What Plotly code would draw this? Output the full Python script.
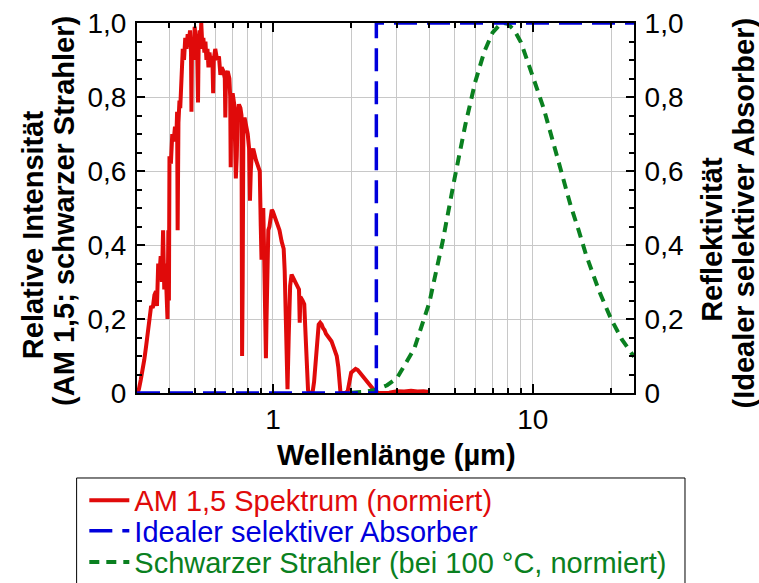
import plotly.graph_objects as go

# ---------------- data ----------------
am_wl = [0.300, 0.305, 0.310, 0.315, 0.320, 0.325, 0.330, 0.335, 0.340, 0.345,
         0.350, 0.355, 0.358, 0.362, 0.366, 0.370, 0.374, 0.378, 0.382, 0.386,
         0.390, 0.393, 0.396, 0.398, 0.400, 0.405, 0.410, 0.415, 0.420, 0.425,
         0.428, 0.430, 0.433, 0.437, 0.440, 0.445, 0.450, 0.455, 0.460, 0.465,
         0.470, 0.475, 0.480, 0.484, 0.486, 0.488, 0.492, 0.496, 0.500, 0.505,
         0.510, 0.515, 0.518, 0.522, 0.526, 0.530, 0.535, 0.540, 0.545, 0.550,
         0.555, 0.560, 0.565, 0.570, 0.575, 0.580, 0.586, 0.589, 0.592, 0.600,
         0.610, 0.620, 0.628, 0.635, 0.645, 0.653, 0.656, 0.660, 0.670, 0.680,
         0.685, 0.688, 0.692, 0.700, 0.710, 0.716, 0.720, 0.726, 0.732, 0.740,
         0.750, 0.757, 0.761, 0.765, 0.770, 0.780, 0.790, 0.800, 0.810, 0.816,
         0.822, 0.830, 0.840, 0.850, 0.860, 0.870, 0.880, 0.890, 0.898, 0.904,
         0.910, 0.918, 0.925, 0.930, 0.935, 0.940, 0.945, 0.950, 0.955, 0.960,
         0.970, 0.980, 0.990, 1.000, 1.020, 1.040, 1.060, 1.080, 1.100, 1.110,
         1.120, 1.130, 1.138, 1.150, 1.165, 1.180, 1.200, 1.220, 1.240, 1.260,
         1.268, 1.275, 1.300, 1.320, 1.335, 1.350, 1.365, 1.380, 1.400, 1.420,
         1.440, 1.460, 1.480, 1.500, 1.520, 1.540, 1.560, 1.580, 1.600, 1.640,
         1.680, 1.720, 1.760, 1.785, 1.805, 1.820, 1.860, 1.900, 1.940, 1.970,
         2.000, 2.040, 2.080, 2.120, 2.160, 2.200, 2.250, 2.300, 2.350, 2.400,
         2.450, 2.500, 2.600, 2.700, 2.800, 2.900, 3.000, 3.200, 3.400, 3.600,
         3.800, 4.000]
am_val = [0.000, 0.010, 0.035, 0.060, 0.090, 0.125, 0.165, 0.205, 0.235, 0.230,
          0.265, 0.275, 0.235, 0.350, 0.320, 0.370, 0.300, 0.440, 0.280, 0.350,
          0.230, 0.200, 0.440, 0.250, 0.640, 0.620, 0.700, 0.680, 0.720, 0.690,
          0.760, 0.440, 0.730, 0.790, 0.770, 0.860, 0.930, 0.900, 0.960, 0.930,
          0.970, 0.950, 0.980, 0.920, 0.760, 0.930, 0.960, 0.900, 0.990, 0.950,
          0.970, 0.785, 0.940, 0.980, 0.930, 1.000, 0.940, 0.960, 0.920, 0.950,
          0.900, 0.930, 0.880, 0.920, 0.900, 0.910, 0.880, 0.810, 0.900, 0.930,
          0.900, 0.910, 0.860, 0.880, 0.870, 0.850, 0.745, 0.860, 0.870, 0.850,
          0.800, 0.610, 0.800, 0.810, 0.780, 0.700, 0.580, 0.640, 0.760, 0.780,
          0.770, 0.750, 0.100, 0.300, 0.740, 0.740, 0.720, 0.700, 0.660, 0.520,
          0.600, 0.650, 0.660, 0.640, 0.630, 0.620, 0.610, 0.600, 0.450, 0.360,
          0.480, 0.500, 0.380, 0.280, 0.150, 0.094, 0.200, 0.300, 0.380, 0.440,
          0.450, 0.480, 0.495, 0.490, 0.475, 0.460, 0.440, 0.410, 0.390, 0.330,
          0.200, 0.060, 0.010, 0.150, 0.290, 0.320, 0.310, 0.300, 0.290, 0.280,
          0.190, 0.260, 0.250, 0.240, 0.160, 0.060, 0.008, 0.000, 0.000, 0.000,
          0.030, 0.090, 0.140, 0.185, 0.190, 0.185, 0.175, 0.170, 0.160, 0.150,
          0.140, 0.120, 0.100, 0.070, 0.020, 0.000, 0.000, 0.000, 0.005, 0.030,
          0.055, 0.060, 0.065, 0.062, 0.055, 0.045, 0.038, 0.030, 0.022, 0.013,
          0.006, 0.000, 0.000, 0.000, 0.001, 0.003, 0.005, 0.004, 0.006, 0.004,
          0.005, 0.003]

bb_wl = [2.0, 2.25, 2.5, 2.75, 3.0, 3.5, 4.0, 4.5, 5.0, 5.5, 6.0, 6.5, 7.0,
         7.5, 7.75, 8.0, 8.5, 9.0, 10.0, 11.0, 12.0, 13.0, 14.0, 15.0, 16.0,
         18.0, 20.0, 22.0, 24.5]
bb_val = [0.001, 0.003, 0.009, 0.021, 0.040, 0.120, 0.245, 0.410, 0.580, 0.725,
          0.840, 0.922, 0.974, 0.997, 1.000, 0.998, 0.980, 0.948, 0.855, 0.770,
          0.675, 0.585, 0.505, 0.440, 0.375, 0.275, 0.200, 0.145, 0.098]

abs_wl = [0.3, 2.5, 2.5, 24.5]
abs_val = [0.0, 0.0, 1.0, 1.0]

x_major = [1, 10]
x_major_text = ["1", "10"]
x_minor = [0.3, 0.4, 0.5, 0.6, 0.7, 0.8, 0.9, 2, 3, 4, 5, 6, 7, 8, 9, 20]
y_ticks = [0, 0.2, 0.4, 0.6, 0.8, 1.0]
y_text = ["0", "0,2", "0,4", "0,6", "0,8", "1,0"]

names = ["AM 1,5 Spektrum (normiert)",
         "Idealer selektiver Absorber",
         "Schwarzer Strahler (bei 100 °C, normiert)"]
colors = ["#e00a0a", "#0000dc", "#0a8020"]

FONT = "Liberation Sans, Arial, sans-serif"

# ---------------- figure ----------------
fig = go.Figure()
fig.add_trace(go.Scatter(x=am_wl, y=am_val, mode="lines",
                         line=dict(color=colors[0], width=4),
                         name=f"<span style='color:{colors[0]}'>{names[0]}</span>",
                         legend="legend"))
fig.add_trace(go.Scatter(x=bb_wl, y=bb_val, mode="lines",
                         line=dict(color=colors[2], width=4, dash="10px,7px"),
                         name=f"<span style='color:{colors[2]}'>{names[2]}</span>",
                         legend="legend3"))
fig.add_trace(go.Scatter(x=abs_wl, y=abs_val, mode="lines", yaxis="y2",
                         line=dict(color=colors[1], width=3.5, dash="23px,10px"),
                         name=f"<span style='color:{colors[1]}'>{names[1]}</span>",
                         legend="legend2"))

axis_common = dict(showline=True, linecolor="black", linewidth=2,
                   ticks="inside", tickcolor="black", zeroline=False,
                   tickfont=dict(family=FONT, size=28, color="black"))

fig.update_layout(
    width=759, height=583,
    margin=dict(l=137, r=125, t=23, b=190, autoexpand=False),
    paper_bgcolor="white", plot_bgcolor="white",
    font=dict(family=FONT, size=28, color="black"),
    xaxis=dict(type="log", range=[-0.5229, 1.3892],
               tickmode="array", tickvals=x_major, ticktext=x_major_text,
               ticklen=9, tickwidth=2, mirror="ticks",
               showgrid=True, gridcolor="#c8c8c8", gridwidth=1,
               minor=dict(tickmode="array", tickvals=x_minor, ticks="inside",
                          ticklen=5, tickwidth=1.5, tickcolor="black",
                          showgrid=True, gridcolor="#c8c8c8", gridwidth=1),
               **axis_common),
    yaxis=dict(range=[0, 1], tickmode="array", tickvals=y_ticks, ticktext=y_text,
               ticklen=8, tickwidth=2, ticklabelstandoff=3,
               showgrid=True, gridcolor="#c8c8c8", gridwidth=1,
               minor=dict(dtick=0.05, ticks="inside", ticklen=5, tickwidth=1.5,
                          tickcolor="black", showgrid=False),
               **axis_common),
    yaxis2=dict(range=[0, 1], overlaying="y", side="right",
                tickmode="array", tickvals=y_ticks, ticktext=y_text,
                ticklen=8, tickwidth=2, ticklabelstandoff=3, showgrid=False,
                minor=dict(dtick=0.05, ticks="inside", ticklen=5, tickwidth=1.5,
                           tickcolor="black", showgrid=False),
                **axis_common),
    showlegend=True,
)

leg_common = dict(x=-0.106, xanchor="left", yanchor="middle",
                  bgcolor="rgba(0,0,0,0)", borderwidth=0, itemwidth=40,
                  font=dict(family=FONT, size=29))
fig.update_layout(
    legend=dict(y=-0.290, **leg_common),
    legend2=dict(y=-0.373, **leg_common),
    legend3=dict(y=-0.457, **leg_common),
)

# legend frame
fig.add_shape(type="rect", xref="paper", yref="paper",
              x0=-0.1215, x1=1.1026, y0=-0.2297, y1=-0.56,
              line=dict(color="black", width=1), fillcolor="rgba(0,0,0,0)",
              layer="below")

title_font = dict(family=FONT, size=29, color="black")
annots = [
    dict(text="<b>Wellenlänge (µm)</b>", x=0.523, y=-0.168, textangle=0),
    dict(text="<b>Relative Intensität</b>", x=-0.209, y=0.427, textangle=-90),
    dict(text="<b>(AM 1,5; schwarzer Strahler)</b>", x=-0.147, y=0.492, textangle=-90),
    dict(text="<b>Reflektivität</b>", x=1.157, y=0.414, textangle=-90),
    dict(text="<b>(Idealer selektiver Absorber)</b>", x=1.222, y=0.486, textangle=-90),
]
for a in annots:
    fig.add_annotation(xref="paper", yref="paper", showarrow=False,
                       xanchor="center", yanchor="middle", font=title_font, **a)

fig.write_html("out.html")
